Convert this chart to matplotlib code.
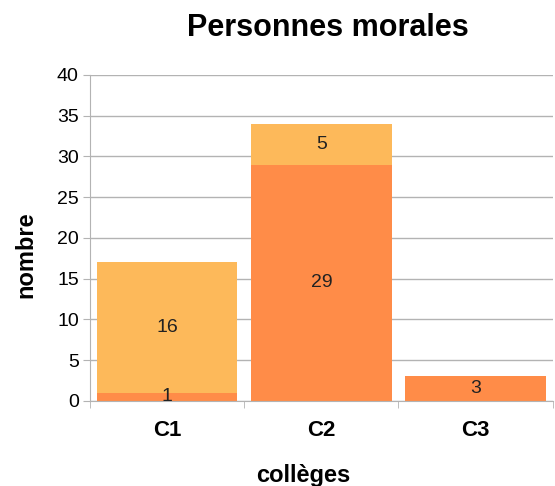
import numpy as np
import matplotlib
matplotlib.use("Agg")
import matplotlib.pyplot as plt

# data
categories = ["C1", "C2", "C3"]
bas = [1, 29, 3]
haut = [16, 5, 0]

plt.rcParams['font.family'] = ['Liberation Sans', 'DejaVu Sans']

fig = plt.figure(figsize=(5.55, 4.86), dpi=100)
ax = fig.add_axes([0.162, 0.175, 0.834, 0.671])

x = np.arange(len(categories))
c_bas = '#FF8C48'
c_haut = '#FDB95A'
ax.bar(x, bas, width=0.91, color=c_bas, zorder=2)
ax.bar(x, haut, bottom=bas, width=0.91, color=c_haut, zorder=2)

for i in range(len(categories)):
    ax.text(x[i], bas[i] / 2, str(bas[i]), ha='center', va='center', fontsize=14, color='#222222', zorder=3)
    if haut[i] > 0:
        ax.text(x[i], bas[i] + haut[i] / 2, str(haut[i]), ha='center', va='center', fontsize=14, color='#222222', zorder=3)

ax.set_xlim(-0.5, 2.5)
ax.set_ylim(0, 40)
ax.set_yticks(range(0, 41, 5))
ax.set_xticks(x)
ax.set_xticklabels(categories, fontsize=16, fontweight='bold')
ax.set_xticks([-0.5, 0.5, 1.5, 2.5], minor=True)
ax.tick_params(axis='x', which='major', length=0, pad=14)
ax.tick_params(axis='x', which='minor', length=5, color='#b3b3b3')
ax.tick_params(axis='y', length=5, color='#b3b3b3', labelsize=14, pad=3)
ax.yaxis.grid(True, color='#b3b3b3', linewidth=1, zorder=0)

for s in ['top', 'right']:
    ax.spines[s].set_visible(False)
for s in ['left', 'bottom']:
    ax.spines[s].set_color('#b3b3b3')

ax.set_title('Personnes morales', fontsize=22, fontweight='bold', pad=28, x=0.515)
ax.set_ylabel('nombre', fontsize=17, fontweight='bold', labelpad=14, y=0.45)
ax.set_xlabel('collèges', fontsize=17, fontweight='bold', labelpad=16, x=0.46)

fig.savefig('out.png', dpi=100)
